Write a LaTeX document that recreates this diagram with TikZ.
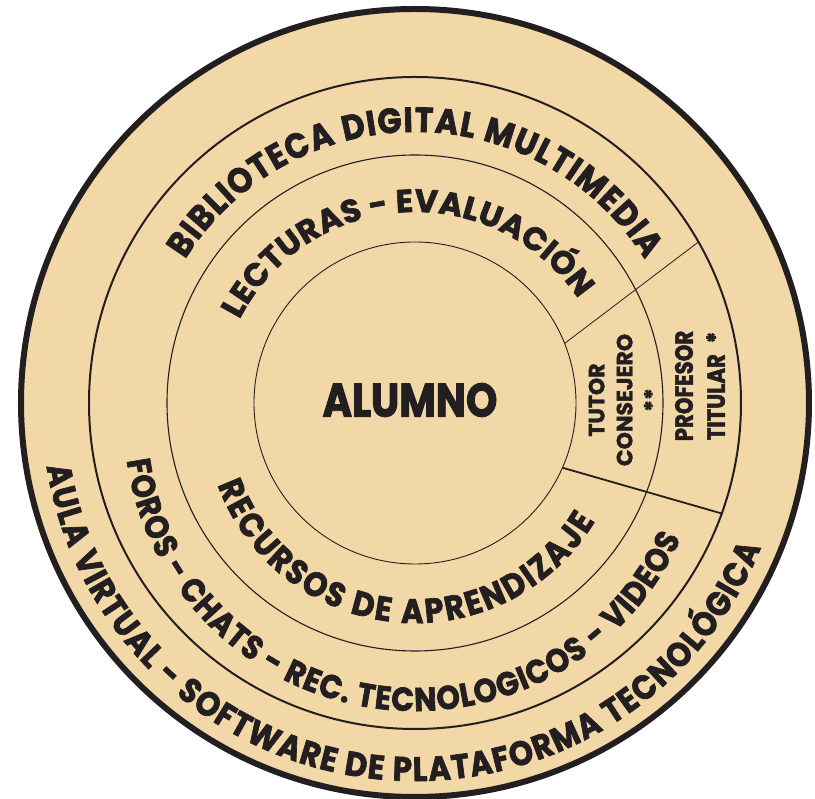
\documentclass[tikz,border=0pt]{standalone}
\usepackage{fontspec}
\usepackage{graphicx}
\usetikzlibrary{decorations.text}
\newfontfamily\pf{Poppins}[BoldFeatures={FakeBold=1.5}]
\newfontfamily\pfc{Poppins}[FakeStretch=0.85, BoldFeatures={FakeBold=2}]
\newfontfamily\pfa{Poppins}[FakeStretch=0.9, BoldFeatures={FakeBold=2}]
\newfontfamily\pfw{Poppins}[BoldFeatures={FakeBold=2}]
\definecolor{tanfill}{RGB}{242,215,167}
\definecolor{ink}{RGB}{35,31,32}
\tikzset{
  arctext/.style={decorate, decoration={text along path, text align=fit to path, text color=ink, text={#1}}},
  wedgetext/.style={rotate=90, align=center, text=ink, inner sep=0pt},
}
\begin{document}
\begin{tikzpicture}[x=1pt,y=1pt]
\useasboundingbox (-415pt,-396pt) rectangle (400pt,403pt);
% rings
\fill[tanfill] (0,0) circle (394pt);
\draw[ink, line width=6pt] (0,0) circle (394pt);
\draw[ink, line width=2pt] (0,0) circle (326pt);
\draw[ink, line width=1.1pt] (0,0) circle (248pt);
\draw[ink, line width=0.9pt] (0,0) circle (161pt);
% dividers
\coordinate (a1) at (21.7:161pt);
\coordinate (a2) at (29.6:326pt);
\coordinate (b1) at (-23.7:161pt);
\coordinate (b2) at (-19.8:327pt);
\draw[ink, line width=0.8pt] (a1) -- (a2);
\draw[ink, line width=1.8pt] (b1) -- (b2);
% arc texts
\path[arctext={|\pfa\bfseries\fontsize{35}{35}\selectfont|BIBLIOTECA DIGITAL MULTIMEDIA}]
  (148:271pt) arc[start angle=148, end angle=32, radius=271pt];
\path[arctext={|\pfw\bfseries\fontsize{32}{32}\selectfont|LECTURAS - EVALUACIÓN}]
  ([shift={(0pt,-6pt)}]153:197pt) arc[start angle=153, end angle=34, radius=197pt];
\path[arctext={|\pfa\bfseries\fontsize{34}{34}\selectfont|RECURSOS DE APRENDIZAJE}]
  ([shift={(0pt,-10pt)}]200:210pt) arc[start angle=200, end angle=329, radius=210pt];
\path[arctext={|\pfa\bfseries\fontsize{33}{33}\selectfont|FOROS - CHATS - REC. TECNOLOGICOS - VIDEOS}]
  ([shift={(0pt,-17pt)}]188:291pt) arc[start angle=188, end angle=336, radius=291pt];
\path[arctext={|\pfa\bfseries\fontsize{34}{34}\selectfont|AULA VIRTUAL - SOFTWARE DE PLATAFORMA TECNOLÓGICA}]
  ([shift={(0pt,-5pt)}]189:373pt) arc[start angle=189, end angle=338, radius=373pt];
% nodes
\node[font=\pfc\bfseries\fontsize{47}{47}\selectfont, text=ink, inner sep=0pt] (alumno) at (-5pt,3pt) {ALUMNO};
\node[wedgetext, font=\pf\bfseries\fontsize{22}{28}\selectfont] (tutor) at (209.5pt,3pt) {TUTOR\\CONSEJERO\\**};
\node[wedgetext, font=\pfc\bfseries\fontsize{25}{32}\selectfont] (profesor) at (285pt,17pt) {PROFESOR\\TITULAR\hspace{11pt}*};
\end{tikzpicture}
\end{document}
